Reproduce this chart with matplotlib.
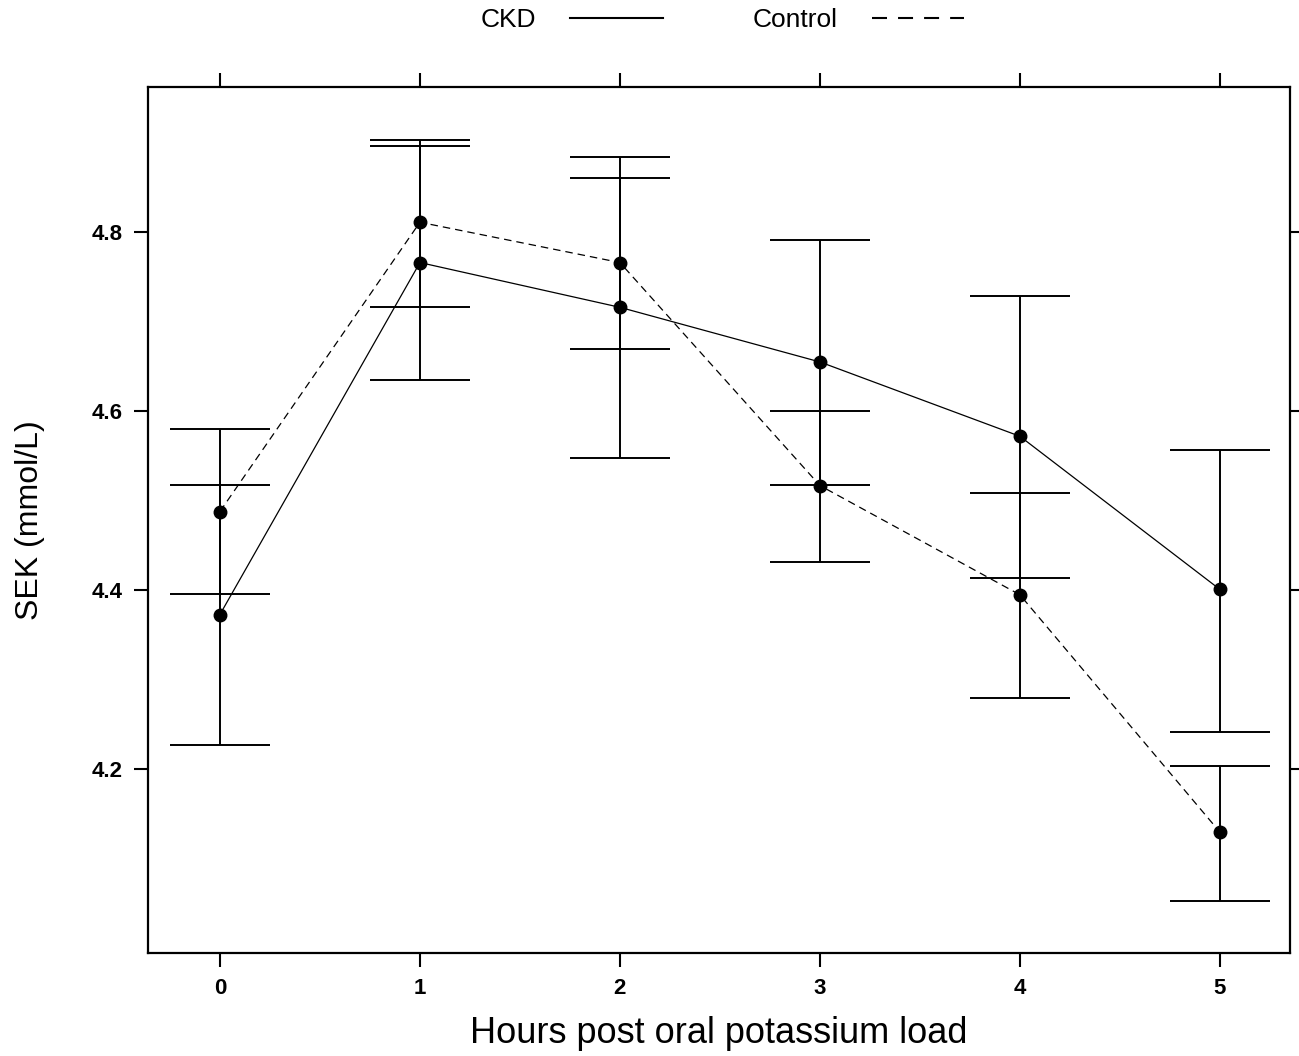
import numpy as np
import matplotlib.pyplot as plt
import matplotlib.lines as mlines

plt.rcParams['font.family'] = ['Liberation Sans', 'DejaVu Sans']

hours = [0, 1, 2, 3, 4, 5]

# serum potassium, mean and interval limits
ckd_mean = [4.373, 4.766, 4.716, 4.655, 4.572, 4.401]
ckd_low = [4.227, 4.635, 4.548, 4.518, 4.414, 4.242]
ckd_high = [4.518, 4.896, 4.884, 4.791, 4.729, 4.557]

ctrl_mean = [4.488, 4.811, 4.766, 4.517, 4.395, 4.130]
ctrl_low = [4.396, 4.716, 4.669, 4.432, 4.280, 4.053]
ctrl_high = [4.580, 4.903, 4.860, 4.600, 4.509, 4.204]

y_ticks = [4.2, 4.4, 4.6, 4.8]

fig = plt.figure(figsize=(12.99, 10.56), dpi=100)
ax = fig.add_axes([0.1139, 0.0975, 0.993 - 0.1139, 0.9176 - 0.0975])


def draw_group(mean, low, high, ls, label):
    mean = np.array(mean)
    yerr = [mean - np.array(low), np.array(high) - mean]
    ax.errorbar(hours, mean, yerr=yerr, fmt='none', ecolor='black',
                elinewidth=1.4, capsize=36, capthick=1.4)
    line, = ax.plot(hours, mean, color='black', lw=0.9, ls=ls,
                    marker='o', ms=9, mfc='black', mec='black', label=label)
    return line


draw_group(ckd_mean, ckd_low, ckd_high, '-', 'CKD')
draw_group(ctrl_mean, ctrl_low, ctrl_high, (0, (6, 4)), 'Control')

ax.set_xlim(-0.36, 5.35)
ax.set_ylim(3.995, 4.962)
ax.set_xticks(hours)
ax.set_yticks(y_ticks)
ax.set_yticklabels([f'{v:.1f}' for v in y_ticks])

ax.tick_params(direction='out', length=10, width=1.5, labelsize=16,
               top=True, right=True, labeltop=False, labelright=False, pad=8)
for lab in ax.get_xticklabels() + ax.get_yticklabels():
    lab.set_fontweight('bold')
for sp in ax.spines.values():
    sp.set_linewidth(1.6)

ax.set_xlabel('Hours post oral potassium load', fontsize=26, labelpad=12)
ax.set_ylabel('SEK (mmol/L)', fontsize=23, labelpad=34)

# legend above the panel, text before the line key
h1 = mlines.Line2D([], [], color='black', lw=1.5, ls='-')
h2 = mlines.Line2D([], [], color='black', lw=1.5, ls=(0, (7.2, 5.3)))
fig.legend([h1, h2], ['CKD', 'Control'], loc='center', bbox_to_anchor=(0.556, 0.981),
           ncol=2, frameon=False, markerfirst=False, fontsize=19,
           handlelength=3.5, handletextpad=1.3, columnspacing=3.4)

fig.savefig('out.png', dpi=100)
